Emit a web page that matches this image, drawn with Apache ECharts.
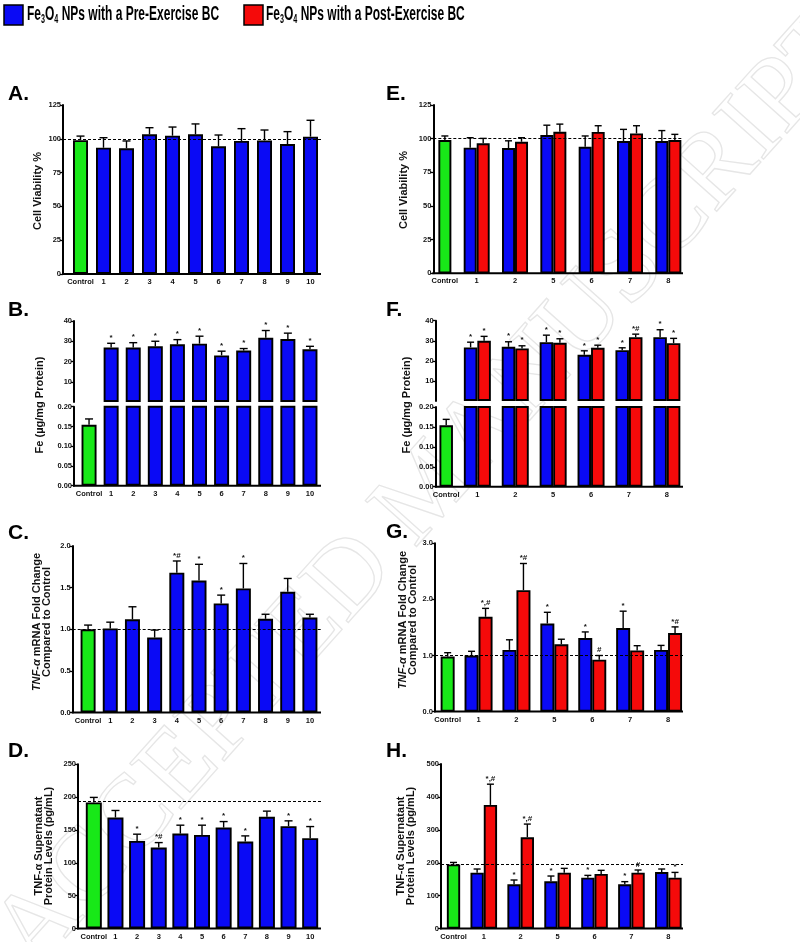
<!DOCTYPE html>
<html><head><meta charset="utf-8">
<script src="https://cdn.jsdelivr.net/npm/echarts@6/dist/echarts.min.js"></script>
<style>html,body{margin:0;padding:0;background:#fff}#c{width:800px;height:942px}</style>
</head><body><div id="c"></div>
<script>
// ---------------- DATA ----------------
const catsAD = ['Control','1','2','3','4','5','6','7','8','9','10'];
const catsEH = ['Control','1','2','5','6','7','8'];

const viabTicks = [0, 25, 50, 75, 100, 125];
const feTopTicks = [0, 10, 20, 30, 40];
const feLowTicks = [0, 0.05, 0.10, 0.15, 0.20];
const mrnaTicksC = [0, 0.5, 1.0, 1.5, 2.0];
const mrnaTicksG = [0, 1.0, 2.0, 3.0];
const protTicksD = [0, 50, 100, 150, 200, 250];
const protTicksH = [0, 100, 200, 300, 400, 500];

// A. Cell viability % (index 0 = Control)
const viabMean = [99, 93.4, 93, 103.3, 102.3, 103.3, 94.4, 98.4, 98.8, 96.1, 101.6];
const viabSem  = [3, 7.4, 5.4, 4.9, 6.4, 7.7, 8.4, 9.1, 7.7, 9.2, 12.1];
// B. Fe (ug/mg protein)
const feMean  = [0.154, 26.9, 26.9, 27.5, 28.5, 28.8, 23, 25.4, 31.7, 31.1, 26];
const feSem   = [0.015, 2.1, 2.4, 2.5, 2.3, 3.7, 2.1, 1.0, 3.6, 2.9, 1.5];
const feMarks = ['', '*', '*', '*', '*', '*', '*', '*', '*', '*', '*'];
// C. TNF-a mRNA fold change
const mrnaMean  = [1.0, 1.01, 1.12, 0.90, 1.68, 1.585, 1.31, 1.49, 1.125, 1.45, 1.14];
const mrnaSem   = [0.05, 0.075, 0.15, 0.09, 0.14, 0.195, 0.10, 0.30, 0.055, 0.16, 0.04];
const mrnaMarks = ['', '', '', '', '*#', '*', '*', '*', '', '', ''];
// D. TNF-a supernatant protein (pg/mL)
const protMean  = [192, 169, 133.4, 123.2, 144.5, 142.5, 153.7, 132.3, 170, 155.8, 137.5];
const protSem   = [7.6, 10.7, 10.2, 7.6, 12.8, 14.8, 9.1, 8.7, 8.7, 8.1, 17.7];
const protMarks = ['', '', '*', '*#', '*', '*', '*', '*', '', '*', '*'];
const protRef = 194;

// E. Cell viability, pre vs post (categories 1,2,5,6,7,8)
const eCtrl = [99], eCtrlSem = [3];
const ePre  = [93.3, 93, 102.7, 94, 98.2, 98.2], ePreSem  = [7.4, 5.4, 7.3, 8, 8.7, 7.8];
const ePost = [96.5, 97.7, 105.1, 105, 103.9, 99], ePostSem = [3.7, 3, 5.7, 4.6, 5.7, 4.2];
// F. Fe
const fCtrl = [0.154], fCtrlSem = [0.015];
const fPre  = [26.7, 27, 29.3, 23, 25.3, 31.8], fPreSem  = [2.6, 2.5, 3.5, 2, 1.2, 3.7];
const fPost = [30, 26.2, 29, 26.5, 31.8, 28.8], fPostSem = [2.2, 1.3, 2, 1.3, 1.5, 2.4];
const fPreMarks  = ['*', '*', '*', '*', '*', '*'];
const fPostMarks = ['*', '*', '*', '*', '*#', '*'];
// G. mRNA
const gCtrl = [0.98], gCtrlSem = [0.07];
const gPre  = [1.0, 1.10, 1.57, 1.31, 1.49, 1.10], gPreSem  = [0.075, 0.18, 0.2, 0.11, 0.3, 0.08];
const gPost = [1.69, 2.165, 1.2, 0.925, 1.09, 1.40], gPostSem = [0.15, 0.475, 0.09, 0.075, 0.085, 0.11];
const gPreMarks  = ['', '', '*', '*', '*', ''];
const gPostMarks = ['*,#', '*#', '', '#', '', '*#'];
// H. protein
const hCtrl = [195], hCtrlSem = [6];
const hPre  = [170, 134.6, 143.7, 154.7, 134.6, 172], hPreSem  = [11, 13, 16, 7, 8, 9];
const hPost = [375.7, 277.5, 170, 166, 170, 154.7], hPostSem = [63, 40, 13, 11, 8, 16];
const hPreMarks  = ['', '*', '*', '*', '*', ''];
const hPostMarks = ['*,#', '*,#', '', '', '#', '*'];
const hRef = 195;

// ---------------- BUILD ----------------
const FF = 'Liberation Sans';
const BLUE = '#0a0af5', RED = '#f50a0a', GREEN = '#18e818';
const grids = [], xAxes = [], yAxes = [], series = [], graphics = [];

function addGrid(L, R, T, B) { grids.push({left: L, top: T, width: R - L, height: B - T}); return grids.length - 1; }
function addX(gi, cats, showLabels, ctrlShift) {
  xAxes.push({type: 'category', gridIndex: gi, data: cats,
    axisLine: {show: false}, axisTick: {show: false}, splitLine: {show: false},
    axisLabel: {show: showLabels, interval: 0, margin: 4, color: '#111', fontSize: 7.5, fontWeight: 'bold', fontFamily: FF,
      formatter: v => (v === cats[0] && ctrlShift) ? '{c|' + v + '}' : v,
      rich: {c: {padding: [0, 0, 0, 2 * (ctrlShift || 0)], fontSize: 7.5, fontWeight: 'bold', fontFamily: FF, color: '#111'}}}});
  return xAxes.length - 1;
}
function addY(gi, ticks, fmt, offset, hideMin) {
  yAxes.push({type: 'value', gridIndex: gi, min: ticks[0], max: ticks[ticks.length - 1], interval: ticks[1] - ticks[0], offset: offset,
    axisLine: {show: true, onZero: false, lineStyle: {color: '#000', width: 2}},
    axisTick: {show: true, length: 3, lineStyle: {color: '#000', width: 1.3}},
    splitLine: {show: false},
    axisLabel: {margin: 2, color: '#111', fontSize: 7.5, fontWeight: 'bold', fontFamily: FF, formatter: fmt, showMinLabel: !hideMin}});
  return yAxes.length - 1;
}
function addBar(xi, yi, data, color, stack, bw, ref, x1, x2) {
  const s = {type: 'bar', xAxisIndex: xi, yAxisIndex: yi, data: data, stack: stack + '_' + xi, barWidth: bw, barGap: '0%',
    silent: true, z: 2, itemStyle: {color: color, borderColor: '#000', borderWidth: 1.9}};
  if (ref != null) {
    s.markLine = {silent: true, symbol: 'none', animation: false, label: {show: false},
      lineStyle: {type: [3, 2], color: '#000', width: 1},
      data: [[{yAxis: ref, x: x1}, {yAxis: ref, x: x2}]]};
  }
  series.push(s);
}
function addErr(xi, yi, idx, means, sems, marks, shift, cap) {
  const items = idx.map((i, k) => ({i: i, m: means[k], s: sems[k], mk: marks ? marks[k] : ''}));
  series.push({type: 'custom', xAxisIndex: xi, yAxisIndex: yi, z: 4, silent: true,
    data: items.map(d => [d.i, d.m, d.s]), encode: {x: 0, y: 1},
    renderItem: (p, api) => {
      const d = items[p.dataIndex];
      const b = api.coord([d.i, d.m]), t = api.coord([d.i, d.m + d.s]);
      const x = b[0] + shift;
      const ch = [
        {type: 'line', shape: {x1: x, y1: b[1], x2: x, y2: t[1]}, style: {stroke: '#000', lineWidth: 1.4}},
        {type: 'line', shape: {x1: x - cap / 2, y1: t[1], x2: x + cap / 2, y2: t[1]}, style: {stroke: '#000', lineWidth: 1.4}}];
      if (d.mk) ch.push({type: 'text', x: x, y: t[1] - 1.5, style: {text: d.mk, fill: '#111', font: 'bold 8px "Liberation Sans"', align: 'center', verticalAlign: 'bottom'}});
      return {type: 'group', children: ch};
    }});
}
function xLine(x1, x2, y) {
  graphics.push({type: 'line', silent: true, z: 10, shape: {x1: x1 - 1, y1: y, x2: x2, y2: y}, style: {stroke: '#000', lineWidth: 2}});
}
const range = (a, b) => Array.from({length: b - a}, (_, k) => a + k);
const only0 = arr => arr.map((v, i) => i === 0 ? v : '-');
const skip0 = arr => arr.map((v, i) => i === 0 ? '-' : v);
const f0 = v => String(v), f1 = v => v.toFixed(1), f2 = v => v.toFixed(2);

// ----- single-series panels (A, C, D) -----
function singlePanel(L, R, T, B, axisX, bw, cats, mean, sem, marks, ticks, fmt, ref) {
  const g = addGrid(L, R, T, B);
  const xi = addX(g, cats, true, 0), yi = addY(g, ticks, fmt, L - axisX);
  addBar(xi, yi, only0(mean), GREEN, 's', bw);
  addBar(xi, yi, skip0(mean), BLUE, 's', bw, ref, axisX, 321);
  addErr(xi, yi, range(0, mean.length), mean, sem, marks, 0, 8);
  xLine(axisX, 321, B);
}
singlePanel(69, 322, 105, 274, 63, 15, catsAD, viabMean, viabSem, null, viabTicks, f0, 100);
singlePanel(77, 321, 546, 712.5, 72.7, 15, catsAD, mrnaMean, mrnaSem, mrnaMarks, mrnaTicksC, f1, 1.0);
singlePanel(83, 321, 764.3, 928.5, 78, 16, catsAD, protMean, protSem, protMarks, protTicksD, f0, protRef);

// ----- B: broken axis -----
(function () {
  const L = 78, R = 321, axisX = 74, bw = 15;
  const gT = addGrid(L, R, 321, 402);
  const xT = addX(gT, catsAD, false, 0), yT = addY(gT, feTopTicks, f0, L - axisX, true);
  addBar(xT, yT, skip0(feMean), BLUE, 's', bw);
  addErr(xT, yT, range(1, 11), feMean.slice(1), feSem.slice(1), feMarks.slice(1), 0, 8);
  const gB = addGrid(L, R, 406.7, 485.7);
  const xB = addX(gB, catsAD, true, 0), yB = addY(gB, feLowTicks, f2, L - axisX);
  addBar(xB, yB, only0(feMean), GREEN, 's', bw);
  addBar(xB, yB, skip0(feMean), BLUE, 's', bw);
  addErr(xB, yB, [0], [feMean[0]], [feSem[0]], null, 0, 8);
  xLine(axisX, 321, 485.7);
})();

// ----- grouped panels (E, G, H) -----
function groupPanel(L, R, T, B, axisX, bw, ctrl, ctrlSem, pre, preSem, post, postSem, preMarks, postMarks, ticks, fmt, ref) {
  const g = addGrid(L, R, T, B);
  const xi = addX(g, catsEH, true, bw / 2), yi = addY(g, ticks, fmt, L - axisX);
  addBar(xi, yi, ['-'].concat(pre), BLUE, 'p', bw, ref, axisX, 683);
  addBar(xi, yi, ['-'].concat(post), RED, 'q', bw);
  addBar(xi, yi, ctrl.concat(pre.map(() => '-')), GREEN, 'q', bw);
  addErr(xi, yi, range(1, 7), pre, preSem, preMarks, -bw / 2, 7);
  addErr(xi, yi, range(1, 7), post, postSem, postMarks, bw / 2, 7);
  addErr(xi, yi, [0], ctrl, ctrlSem, null, bw / 2, 7);
  xLine(axisX, 683, B);
}
groupPanel(419.2, 687.5, 105, 273.3, 433.3, 13, eCtrl, eCtrlSem, ePre, ePreSem, ePost, ePostSem, null, null, viabTicks, f0, 100);
groupPanel(421.7, 687, 543.3, 711.6, 435, 14, gCtrl, gCtrlSem, gPre, gPreSem, gPost, gPostSem, gPreMarks, gPostMarks, mrnaTicksG, f1, 1.0);
groupPanel(428.4, 686.8, 764, 928.6, 441, 13.3, hCtrl, hCtrlSem, hPre, hPreSem, hPost, hPostSem, hPreMarks, hPostMarks, protTicksH, f0, hRef);

// ----- F: broken axis grouped -----
(function () {
  const L = 420.5, R = 685.8, axisX = 435.7, bw = 13.5;
  const gT = addGrid(L, R, 320.7, 401);
  const xT = addX(gT, catsEH, false, bw / 2), yT = addY(gT, feTopTicks, f0, L - axisX, true);
  addBar(xT, yT, ['-'].concat(fPre), BLUE, 'p', bw);
  addBar(xT, yT, ['-'].concat(fPost), RED, 'q', bw);
  addErr(xT, yT, range(1, 7), fPre, fPreSem, fPreMarks, -bw / 2, 7);
  addErr(xT, yT, range(1, 7), fPost, fPostSem, fPostMarks, bw / 2, 7);
  const gB = addGrid(L, R, 407, 486.7);
  const xB = addX(gB, catsEH, true, bw / 2), yB = addY(gB, feLowTicks, f2, L - axisX);
  addBar(xB, yB, ['-'].concat(fPre), BLUE, 'p', bw);
  addBar(xB, yB, ['-'].concat(fPost), RED, 'q', bw);
  addBar(xB, yB, fCtrl.concat(fPre.map(() => '-')), GREEN, 'q', bw);
  addErr(xB, yB, [0], fCtrl, fCtrlSem, null, bw / 2, 7);
  xLine(axisX, 683, 486.7);
})();

// ----- text decorations -----
const letters = [['A.', 8, 94.5], ['B.', 8, 310], ['C.', 8, 533], ['D.', 8, 751],
                 ['E.', 386, 94.5], ['F.', 386, 310], ['G.', 386, 532], ['H.', 386, 751]];
letters.forEach(l => graphics.push({type: 'text', x: l[1], y: l[2], silent: true,
  style: {text: l[0], font: 'bold 21px "Liberation Sans"', fill: '#000', align: 'left', verticalAlign: 'middle'}}));

const richT = {
  i: {fontStyle: 'italic', fontWeight: 'bold', fontSize: 11, fontFamily: FF, lineHeight: 10},
  n: {fontWeight: 'bold', fontSize: 11, fontFamily: FF, lineHeight: 10}
};
const titles = [
  ['{n|Cell Viability %}', 37.5, 191], ['{n|Fe (µg/mg Protein)}', 40, 405],
  ['{i|TNF-α}{n| mRNA Fold Change}\n{n|Compared to Control}', 41.5, 622],
  ['{n|TNF-α Supernatant}\n{n|Protein Levels (pg/mL)}', 43.5, 846],
  ['{n|Cell Viability %}', 404, 190], ['{n|Fe (µg/mg Protein)}', 407, 405],
  ['{i|TNF-α}{n| mRNA Fold Change}\n{n|Compared to Control}', 407.5, 620],
  ['{n|TNF-α Supernatant}\n{n|Protein Levels (pg/mL)}', 406, 846]
];
titles.forEach(t => graphics.push({type: 'text', x: t[1], y: t[2], rotation: Math.PI / 2, silent: true,
  style: {text: t[0], rich: richT, fill: '#111', align: 'center', verticalAlign: 'middle'}}));

// legend
const legRich = {
  a: {fontSize: 20, fontWeight: 'bold', fontFamily: FF, lineHeight: 24, verticalAlign: 'middle', fill: '#000'},
  s: {fontSize: 12, fontWeight: 'bold', fontFamily: FF, lineHeight: 12, verticalAlign: 'bottom', fill: '#000'}
};
graphics.push({type: 'rect', silent: true, shape: {x: 4, y: 5, width: 19, height: 20}, style: {fill: BLUE, stroke: '#000', lineWidth: 1.5}});
graphics.push({type: 'rect', silent: true, shape: {x: 244, y: 5, width: 19, height: 20}, style: {fill: RED, stroke: '#000', lineWidth: 1.5}});
graphics.push({type: 'text', x: 27, y: 2, scaleX: 0.6, silent: true,
  style: {text: '{a|Fe}{s|3}{a|O}{s|4}{a| NPs with a Pre-Exercise BC}', rich: legRich, align: 'left', verticalAlign: 'top'}});
graphics.push({type: 'text', x: 266, y: 2, scaleX: 0.6, silent: true,
  style: {text: '{a|Fe}{s|3}{a|O}{s|4}{a| NPs with a Post-Exercise BC}', rich: legRich, align: 'left', verticalAlign: 'top'}});

// watermark
graphics.push({type: 'text', x: 430, y: 490, rotation: 0.84, z: -5, silent: true,
  style: {text: 'ACCEPTED MANUSCRIPT', font: '105px "Liberation Serif"', fill: 'rgba(0,0,0,0)', stroke: '#e6e6e6', lineWidth: 1.3, align: 'center', verticalAlign: 'middle'}});

const chart = echarts.init(document.getElementById('c'), null, {width: 800, height: 942});
chart.setOption({backgroundColor: '#fff', animation: false, grid: grids, xAxis: xAxes, yAxis: yAxes, series: series, graphic: {elements: graphics}});
</script>
</body></html>
